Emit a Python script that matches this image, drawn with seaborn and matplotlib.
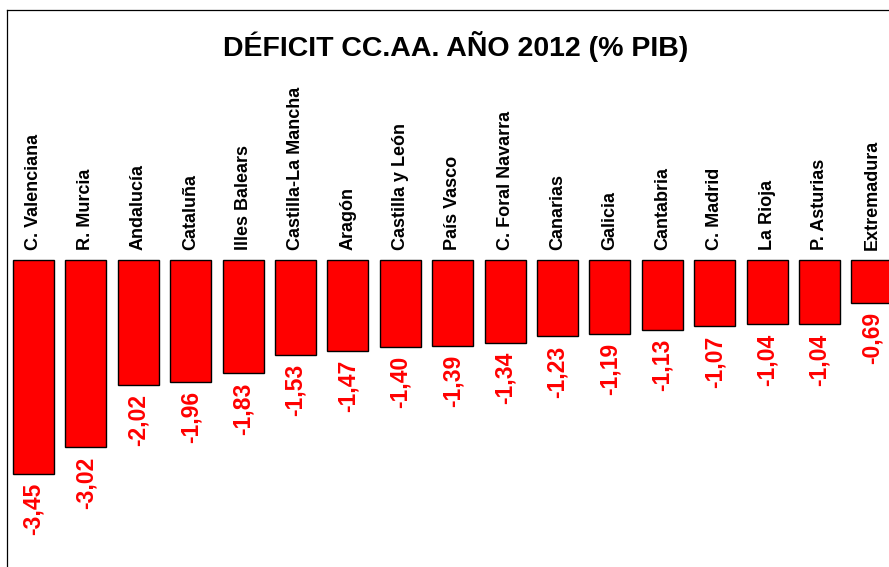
import pandas as pd
import seaborn as sns
import matplotlib.pyplot as plt

# deficit por comunidad autonoma, 2012 (% PIB)
regiones = ["C. Valenciana", "R. Murcia", "Andalucía", "Cataluña", "Illes Balears",
            "Castilla-La Mancha", "Aragón", "Castilla y León", "País Vasco",
            "C. Foral Navarra", "Canarias", "Galicia", "Cantabria", "C. Madrid",
            "La Rioja", "P. Asturias", "Extremadura"]
deficit = [-3.45, -3.02, -2.02, -1.96, -1.83, -1.53, -1.47, -1.40, -1.39,
           -1.34, -1.23, -1.19, -1.13, -1.07, -1.04, -1.04, -0.69]
titulo = 'DÉFICIT CC.AA. AÑO 2012 (% PIB)'

df = pd.DataFrame({'region': regiones, 'deficit': deficit})

sns.set_style('white')
plt.rcParams['font.family'] = ['Liberation Sans', 'DejaVu Sans']

fig = plt.figure(figsize=(8.89, 5.67), dpi=100)
# la grafica original esta recortada por la derecha y por abajo
ax = fig.add_axes([7/889, 0, 943/889, 557/567])

sns.barplot(x='region', y='deficit', data=df, color='#FF0000', saturation=1,
            width=0.78, edgecolor='black', linewidth=1, errorbar=None, ax=ax)

ax.set_xlim(-0.506, -0.506 + 943/52.4)
ax.set_ylim(-307/62, 250/62)
ax.set_xlabel('')
ax.set_ylabel('')
ax.set_xticks([])
ax.set_yticks([])
for s in ['right', 'bottom']:
    ax.spines[s].set_visible(False)
for s in ['left', 'top']:
    ax.spines[s].set_color('black')
    ax.spines[s].set_linewidth(0.9)

for i, (r, v) in enumerate(zip(regiones, deficit)):
    ax.annotate(r, (i, 0), xytext=(0, 7), textcoords='offset points',
                rotation=90, ha='center', va='bottom', fontsize=13,
                fontweight='bold', color='black')
    ax.annotate(f'{v:.2f}'.replace('.', ','), (i, v), xytext=(0, -6.5),
                textcoords='offset points', rotation=90, ha='center', va='top',
                fontsize=16.5, fontweight='bold', color='#FF0000')

fig.text(456/889, 1 - 46/567, titulo, ha='center', va='center',
         fontsize=20.5, fontweight='bold', color='black')

plt.savefig('out.png', dpi=100)
